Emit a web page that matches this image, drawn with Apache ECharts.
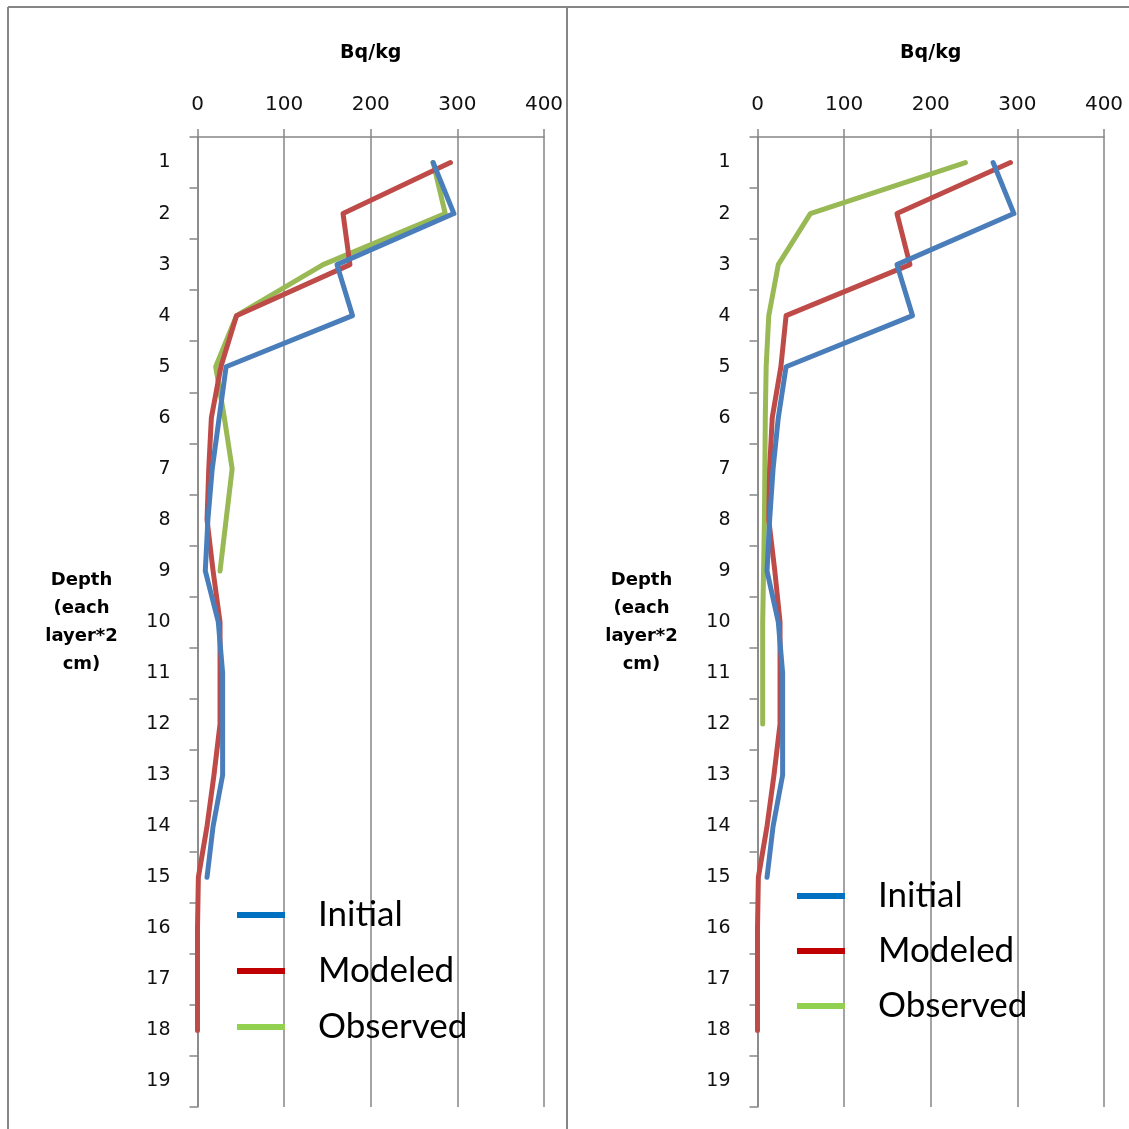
<!DOCTYPE html>
<html>
<head>
<meta charset="utf-8">
<script src="https://cdn.jsdelivr.net/npm/echarts@6/dist/echarts.min.js"></script>
<style>
  html, body { margin: 0; padding: 0; background: #ffffff; }
  #chart { width: 1129px; height: 1129px; }
</style>
</head>
<body>
<div id="chart"></div>
<script>
// Depth layers (each layer = 2 cm)
const depthLayers = ['1','2','3','4','5','6','7','8','9','10','11','12','13','14','15','16','17','18','19'];
const seriesNames = ['Initial', 'Modeled', 'Observed'];

// Activity profiles, Bq/kg — left panel
const initialLeft  = [272, 296, 161, 179, 33, 25, 17, 12, 9, 24, 29, 29, 29, 18, 11];
const modeledLeft  = [292, 168, 176, 45, 27, 16, 13, 11, 18, 26, 26, 26, 19, 11, 1, 0, 0, 0];
const observedLeft = [272, 286, 145, 45, 21, 31, 40, 33, 26];

// Activity profiles, Bq/kg — right panel
const initialRight  = [272, 296, 161, 179, 33, 24, 18, 14, 11, 24, 29, 29, 29, 18, 11];
const modeledRight  = [292, 161, 176, 33, 27, 17, 14, 13, 20, 26, 26, 26, 19, 11, 1, 0, 0, 0];
const observedRight = [240, 61, 24, 13, 10, 9, 8.5, 8, 7, 6, 6, 6];

const lineColors   = ['#4A7EBB', '#BE4B48', '#98B954'];
const legendColors = ['#0070C0', '#C00000', '#92D050'];

const axisGray = '#868686';
const tickFont = 'DejaVu Sans';

function makeXAxis(gridIndex) {
  return {
    gridIndex: gridIndex,
    type: 'value',
    position: 'top',
    min: 0, max: 400, interval: 100,
    name: 'Bq/kg',
    nameLocation: 'middle',
    nameGap: 74,
    nameTextStyle: { fontFamily: tickFont, fontWeight: 'bold', fontSize: 19, color: '#000' },
    axisLine: { show: true, lineStyle: { color: axisGray, width: 1.5 } },
    axisTick: { show: true, length: 8, lineStyle: { color: axisGray, width: 1.5 } },
    axisLabel: { margin: 22, fontFamily: tickFont, fontSize: 20, color: '#111' },
    splitLine: { show: true, lineStyle: { color: axisGray, width: 1.5 } }
  };
}

function makeYAxis(gridIndex) {
  return {
    gridIndex: gridIndex,
    type: 'category',
    inverse: true,
    data: depthLayers,
    boundaryGap: true,
    name: 'Depth\n(each\nlayer*2\ncm)',
    nameLocation: 'middle',
    nameRotate: 0,
    nameGap: 116,
    nameTextStyle: {
      fontFamily: tickFont, fontWeight: 'bold', fontSize: 18, color: '#000',
      lineHeight: 28, align: 'center', verticalAlign: 'middle',
      padding: [14, 0, 0, 0]
    },
    axisLine: { show: true, lineStyle: { color: axisGray, width: 1.5 } },
    axisTick: { show: true, length: 8, lineStyle: { color: axisGray, width: 1.5 } },
    axisLabel: {
      margin: 27, fontFamily: tickFont, fontSize: 19, color: '#111', interval: 0,
      padding: [10, 0, 0, 0]
    },
    splitLine: { show: false }
  };
}

function makeSeries(name, data, idx, axisIdx) {
  return {
    name: name,
    type: 'line',
    xAxisIndex: axisIdx,
    yAxisIndex: axisIdx,
    data: data,
    symbol: 'none',
    smooth: false,
    animation: false,
    lineStyle: { color: lineColors[idx], width: 5, cap: 'round', join: 'round' },
    itemStyle: { color: lineColors[idx] },
    z: 5 - idx
  };
}

function makeLegend(left, top, gap) {
  return {
    orient: 'vertical',
    left: left,
    top: top,
    itemGap: gap,
    itemWidth: 48,
    itemHeight: 6,
    selectedMode: false,
    data: seriesNames.map((n, i) => ({
      name: n,
      icon: 'rect',
      itemStyle: { color: legendColors[i], borderWidth: 0 }
    })),
    textStyle: {
      fontFamily: 'Lato',
      fontSize: 35,
      lineHeight: 40,
      color: '#000',
      padding: [0, 0, 0, 28]
    }
  };
}

const chart = echarts.init(document.getElementById('chart'), null, { renderer: 'canvas' });

chart.setOption({
  backgroundColor: '#ffffff',
  animation: false,
  grid: [
    { left: 197.5, top: 137, width: 346.5, height: 970 },
    { left: 757.5, top: 137, width: 346.5, height: 970 }
  ],
  xAxis: [makeXAxis(0), makeXAxis(1)],
  yAxis: [makeYAxis(0), makeYAxis(1)],
  legend: [makeLegend(232, 890, 16), makeLegend(792, 871, 15)],
  series: [
    makeSeries('Initial', initialLeft, 0, 0),
    makeSeries('Modeled', modeledLeft, 1, 0),
    makeSeries('Observed', observedLeft, 2, 0),
    makeSeries('Initial', initialRight, 0, 1),
    makeSeries('Modeled', modeledRight, 1, 1),
    makeSeries('Observed', observedRight, 2, 1)
  ],
  graphic: [
    // panel frame: top edge, left edge and the divider between the two panels
    { type: 'line', shape: { x1: 8, y1: 7, x2: 1129, y2: 7 }, style: { stroke: axisGray, lineWidth: 2 }, silent: true },
    { type: 'line', shape: { x1: 8, y1: 7, x2: 8, y2: 1129 }, style: { stroke: axisGray, lineWidth: 2 }, silent: true },
    { type: 'line', shape: { x1: 567, y1: 7, x2: 567, y2: 1129 }, style: { stroke: axisGray, lineWidth: 2 }, silent: true }
  ]
});
</script>
</body>
</html>
